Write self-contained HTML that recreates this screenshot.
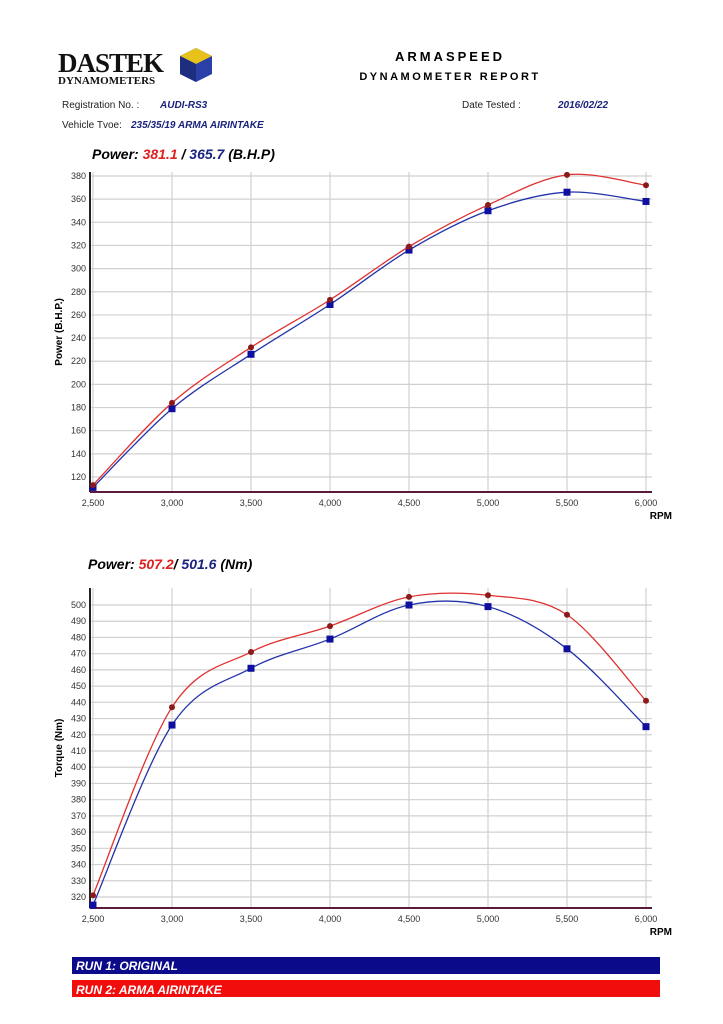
<!DOCTYPE html>
<html><head><meta charset="utf-8"><style>
body{margin:0;background:#fff;width:723px;height:1024px;overflow:hidden;font-family:"Liberation Sans",sans-serif}
svg{position:absolute;left:0;top:0}
</style></head><body>
<svg id="s" width="723" height="1024">
<g>
<text x="58" y="72" font-size="27" font-weight="bold" fill="#111" font-family="Liberation Serif" letter-spacing="-1">DASTEK</text>
<text x="58" y="84" font-size="11" font-weight="bold" fill="#111" font-family="Liberation Serif">DYNAMOMETERS</text>
<polygon points="196,48 212,56 212,74 196,82 180,74 180,56" fill="#2a3fa8"/>
<polygon points="196,48 212,56 196,64 180,56" fill="#e8c21a"/>
<polygon points="196,64 196,82 180,74 180,56" fill="#1d2d80"/>
</g>
<text x="450" y="61" font-size="13" font-weight="bold" text-anchor="middle" letter-spacing="3">ARMASPEED</text>
<text x="450" y="80" font-size="11" font-weight="bold" text-anchor="middle" letter-spacing="2.5">DYNAMOMETER REPORT</text>
<text x="62" y="108" font-size="10" fill="#222">Registration No. :</text>
<text x="160" y="108" font-size="10" font-weight="bold" font-style="italic" fill="#1a237e">AUDI-RS3</text>
<text x="62" y="128" font-size="10" fill="#222">Vehicle Tvoe:</text>
<text x="131" y="128" font-size="10" font-weight="bold" font-style="italic" fill="#1a237e">235/35/19 ARMA AIRINTAKE</text>
<text x="462" y="108" font-size="10" fill="#222">Date Tested :</text>
<text x="558" y="108" font-size="10" font-weight="bold" font-style="italic" fill="#1a237e">2016/02/22</text>
<text x="92" y="159" font-size="14" font-weight="bold" font-style="italic">Power: <tspan fill="#e02020">381.1</tspan> / <tspan fill="#1a237e">365.7</tspan> (B.H.P)</text>
<text x="88" y="569" font-size="14" font-weight="bold" font-style="italic">Power: <tspan fill="#e02020">507.2</tspan>/ <tspan fill="#1a237e">501.6</tspan> (Nm)</text>
<rect x="72" y="957" width="588" height="17" fill="#0a0a8a"/>
<text x="76" y="970" font-size="12" font-weight="bold" font-style="italic" fill="#fff">RUN 1: ORIGINAL</text>
<rect x="72" y="980" width="588" height="17" fill="#f20d0d"/>
<text x="76" y="994" font-size="12" font-weight="bold" font-style="italic" fill="#fff">RUN 2: ARMA AIRINTAKE</text>
</svg>
<script>
const rpm=[2500,3000,3500,4000,4500,5000,5500,6000];
const powerRed=[113,184,232,273,319,355,381,372];
const powerBlue=[111,179,226,269,316,350,366,358];
const torqueRed=[321,437,471,487,505,506,494,441];
const torqueBlue=[315,426,461,479,500,499,473,425];
const xTicks=[2500,3000,3500,4000,4500,5000,5500,6000];
const powerTicks=[120,140,160,180,200,220,240,260,280,300,320,340,360,380];
const torqueTicks=[320,330,340,350,360,370,380,390,400,410,420,430,440,450,460,470,480,490,500];
const NS="http://www.w3.org/2000/svg";
const svg=document.getElementById('s');
function el(t,a,p){const e=document.createElementNS(NS,t);for(const k in a)e.setAttribute(k,a[k]);(p||svg).appendChild(e);return e;}
function chart(cfg){
 const g=el('g',{});
 
 
 const X=v=>93+(v-2500)*553/3500;
 const Y=v=>cfg.y0-(v-cfg.v0)*cfg.k;
 xTicks.forEach(t=>{const l=el('line',{x1:X(t),x2:X(t),y1:cfg.top,y2:cfg.axisY,stroke:'#d0d0d0','stroke-width':1.2},g);
  
  const tx=el('text',{x:X(t),y:cfg.axisY+14,'font-size':9,'text-anchor':'middle',fill:'#333'},g);tx.textContent=t.toLocaleString('en-US');
  });
 cfg.ticks.forEach(t=>{const l=el('line',{x1:90,x2:652,y1:Y(t),y2:Y(t),stroke:'#d0d0d0','stroke-width':1.2},g);
  
  const tx=el('text',{x:86,y:Y(t)+3,'font-size':9,'text-anchor':'end',fill:'#333'},g);tx.textContent=t;
  });
 const ya=el('line',{x1:90,x2:90,y1:cfg.top,y2:cfg.axisY,stroke:'#222','stroke-width':2},g);
 
 const xa=el('line',{x1:90,x2:652,y1:cfg.axisY,y2:cfg.axisY,stroke:'#5a1a3a','stroke-width':2},g);
 
 const rp=el('text',{x:672,y:cfg.axisY+27,'font-size':10,'font-weight':'bold','text-anchor':'end'},g);rp.textContent='RPM';
 
 const yt=el('text',{x:0,y:0,'font-size':10,'font-weight':'bold','text-anchor':'middle',transform:`translate(62,${(cfg.top+cfg.axisY)/2}) rotate(-90)`},g);yt.textContent=cfg.ytitle;
 
 function path(vals){const p=rpm.map((r,i)=>[X(r),Y(vals[i])]);let d=`M${p[0][0]},${p[0][1]}`;
  for(let i=0;i<p.length-1;i++){const a=p[i-1]||p[i],b=p[i],c=p[i+1],e=p[i+2]||c;
   d+=` C${b[0]+(c[0]-a[0])/6},${b[1]+(c[1]-a[1])/6} ${c[0]-(e[0]-b[0])/6},${c[1]-(e[1]-b[1])/6} ${c[0]},${c[1]}`;}return d;}
 [[cfg.blue,'#2233aa','run1'],[cfg.red,'#e03030','run2']].forEach(([vals,col,nm])=>{
  const pa=el('path',{d:path(vals),fill:'none',stroke:col,'stroke-width':1.3},g);
  
  vals.forEach((v,i)=>{let m;
   if(nm==='run1')m=el('rect',{x:X(rpm[i])-3.5,y:Y(v)-3.5,width:7,height:7,fill:'#1010a0'},g);
   else m=el('circle',{cx:X(rpm[i]),cy:Y(v),r:3,fill:'#8b1a1a'},g);
   });
 });
}
chart({name:'power-chart',y0:477,v0:120,k:301/260,top:172,axisY:492,ticks:powerTicks,red:powerRed,blue:powerBlue,ytitle:'Power (B.H.P.)'});
chart({name:'torque-chart',y0:897,v0:320,k:292/180,top:588,axisY:908,ticks:torqueTicks,red:torqueRed,blue:torqueBlue,ytitle:'Torque (Nm)'});
</script>
</body></html>
